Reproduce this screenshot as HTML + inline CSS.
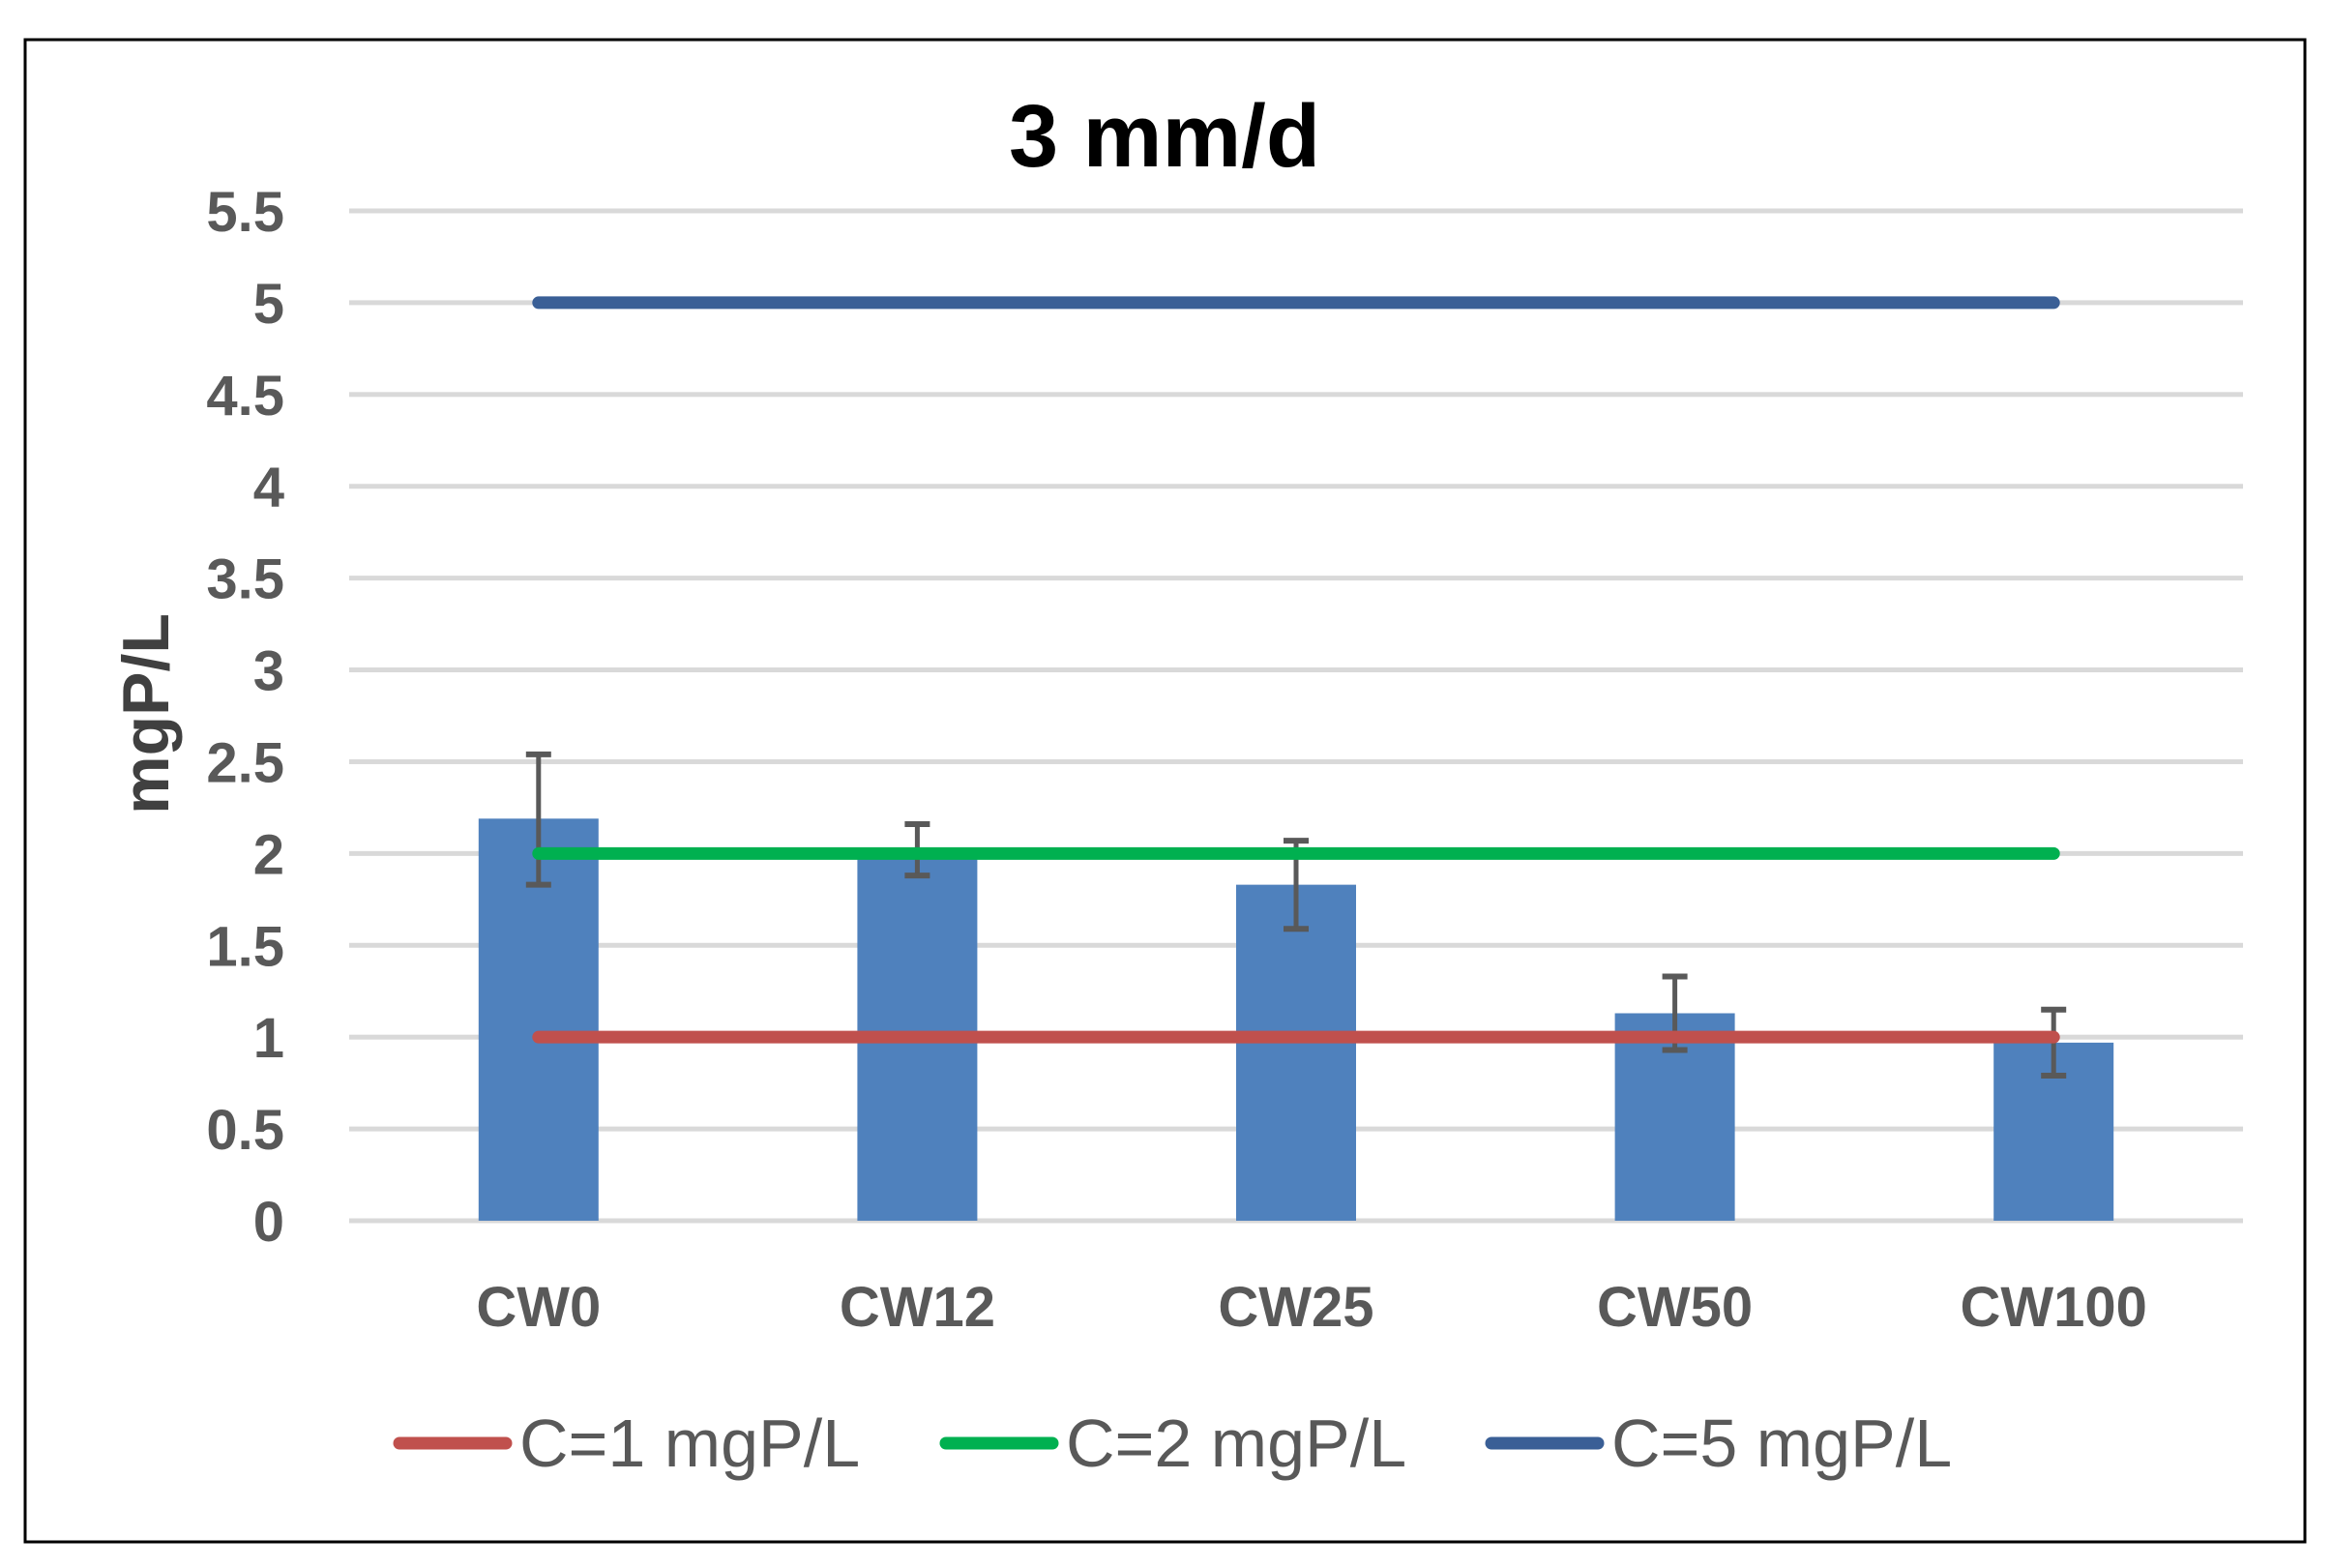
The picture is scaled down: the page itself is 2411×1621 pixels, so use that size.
<!DOCTYPE html>
<html><head><meta charset="utf-8"><style>
html,body{margin:0;padding:0;background:#fff;}
svg{display:block;}
text{font-family:"Liberation Sans",sans-serif;}
</style></head><body>
<svg id="chart" width="2411" height="1621" viewBox="0 0 2411 1621" xmlns="http://www.w3.org/2000/svg">
<rect x="26" y="41" width="2357" height="1553" fill="#fff" stroke="#000" stroke-width="3"/>
<text x="1204" y="172" text-anchor="middle" font-size="92" font-weight="bold" fill="#000">3 mm/d</text>
<text transform="translate(174,738) rotate(-90)" text-anchor="middle" font-size="68" font-weight="bold" fill="#404040">mgP/L</text>
<g id="grid"></g><g id="bars"></g><g id="errs"></g><g id="lines"></g><g id="yticks"></g><g id="xticks"></g><g id="legend"></g>
</svg>
<script>
const categories = ["CW0","CW12","CW25","CW50","CW100"];
const barValues = [2.19, 1.98, 1.83, 1.13, 0.97];
const errLow = [1.83, 1.88, 1.59, 0.93, 0.79];
const errHigh = [2.54, 2.16, 2.07, 1.33, 1.15];
const refLabels = ["C=1 mgP/L","C=2 mgP/L","C=5 mgP/L"];
const refValues = [1, 2, 5];
const yTicks = [0,0.5,1,1.5,2,2.5,3,3.5,4,4.5,5,5.5];
const refColors = ["#C0504D","#00B050","#3A5F96"];
const NS="http://www.w3.org/2000/svg";
const L=361,R=2319,Y0=1262,Ymax=218,yMaxV=5.5;
const y=v=>Y0-(v/yMaxV)*(Y0-Ymax);
const band=(R-L)/categories.length;
const x=i=>L+band*(i+0.5);
function mk(p,tag,a){const e=document.createElementNS(NS,tag);for(const k in a)e.setAttribute(k,a[k]);document.getElementById(p).appendChild(e);return e;}
yTicks.forEach((t,i)=>{
 const g=mk('grid','rect',{x:L,y:y(t)-2.5,width:R-L,height:5,fill:'#D9D9D9'});
 
 
 const tx=mk('yticks','text',{x:294,y:y(t)+21,'text-anchor':'end','font-size':58,'font-weight':'bold',fill:'#595959'});
 tx.textContent=String(t);
 
 
});
const bw=124;
categories.forEach((c,i)=>{
 const b=mk('bars','rect',{x:x(i)-bw/2,y:y(barValues[i]),width:bw,height:Y0-y(barValues[i]),fill:'#4F81BD'});
 
 
 const ln=mk('errs','line',{x1:x(i),x2:x(i),y1:y(errLow[i]),y2:y(errHigh[i]),stroke:'#595959','stroke-width':5});
 
 
 [errLow[i],errHigh[i]].forEach(v=>{
  const cp=mk('errs','line',{x1:x(i)-13,x2:x(i)+13,y1:y(v),y2:y(v),stroke:'#595959','stroke-width':6});
  
  
 });
 const t=mk('xticks','text',{x:x(i),y:1371,'text-anchor':'middle','font-size':58,'font-weight':'bold',fill:'#595959'});
 t.textContent=c;
 
 
});
const legX=[407,972,1536];
refValues.forEach((v,k)=>{
 const l=mk('lines','line',{x1:x(0),x2:x(categories.length-1),y1:y(v),y2:y(v),stroke:refColors[k],'stroke-width':13,'stroke-linecap':'round'});
 
 
 const ll=mk('legend','line',{x1:legX[k]+6,x2:legX[k]+116,y1:1492,y2:1492,stroke:refColors[k],'stroke-width':13,'stroke-linecap':'round'});
 
 
 const lt=mk('legend','text',{x:legX[k]+130,y:1516,'font-size':70,fill:'#595959'});
 lt.textContent=refLabels[k];
 
 
});
</script>
</body></html>
